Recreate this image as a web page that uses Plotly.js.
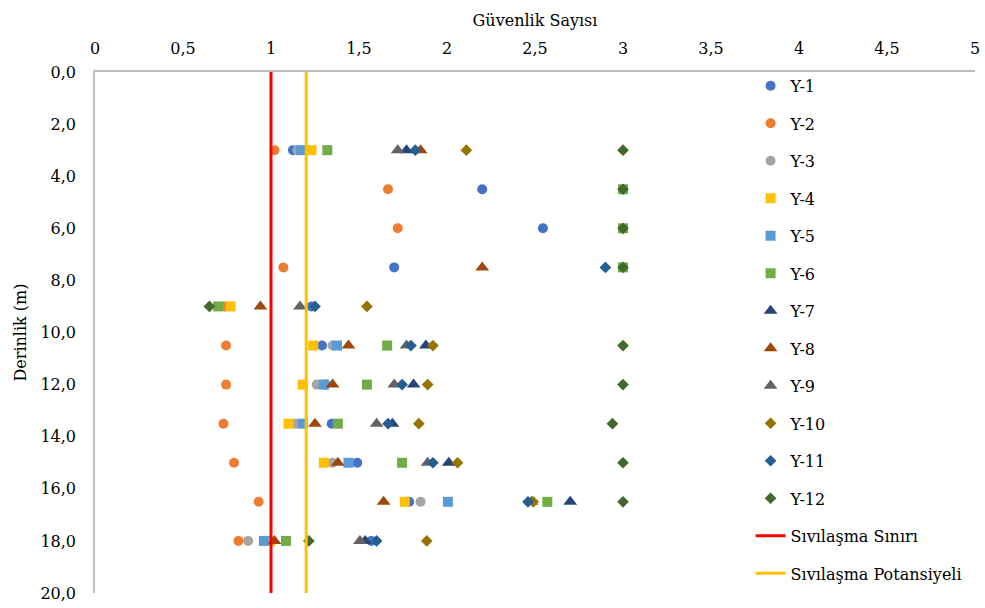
<!DOCTYPE html>
<html>
<head>
<meta charset="utf-8">
<script src="https://cdn.plot.ly/plotly-3.0.1.min.js"></script>
<style>html,body{margin:0;padding:0;background:#fff;}#chart{width:985px;height:608px;}</style>
</head>
<body>
<div id="chart"></div>
<script>
// Depths (m)
const depths = [3.0, 4.5, 6.0, 7.5, 9.0, 10.5, 12.0, 13.5, 15.0, 16.5, 18.0];

// Safety factor values per borehole (null = no point)
const Y1  = [1.125, 2.20, 2.545, 1.70, 1.23, 1.29, 1.31, 1.345, 1.49, 1.785, 1.57];
const Y2  = [1.02, 1.665, 1.72, 1.07, 0.74, 0.745, 0.745, 0.73, 0.79, 0.93, 0.815];
const Y3  = [1.15, null, null, null, null, 1.35, 1.26, 1.14, 1.35, 1.85, 0.87];
const Y4  = [1.23, null, null, null, 0.77, 1.24, 1.18, 1.10, 1.30, 1.76, 0.995];
const Y5  = [1.17, null, null, null, null, 1.375, 1.30, 1.18, 1.44, 2.005, 0.96];
const Y6  = [1.32, 3.0, 3.0, 3.0, 0.70, 1.66, 1.545, 1.38, 1.745, 2.57, 1.085];
const Y7  = [1.77, null, null, null, null, 1.88, 1.81, 1.69, 2.01, 2.70, 1.535];
const Y8  = [1.85, null, null, 2.20, 0.94, 1.44, 1.35, 1.25, 1.38, 1.64, 1.02];
const Y9  = [1.72, null, null, null, 1.165, 1.77, 1.70, 1.60, 1.89, 2.48, 1.505];
const Y10 = [2.11, null, null, null, 1.545, 1.92, 1.89, 1.84, 2.06, 2.49, 1.885];
const Y11 = [1.82, null, null, 2.90, 1.25, 1.795, 1.745, 1.665, 1.92, 2.46, 1.60];
const Y12 = [3.0, 3.0, 3.0, 3.0, 0.65, 3.0, 3.0, 2.94, 3.0, 3.0, 1.215];

const seriesNames = ["Y-1","Y-2","Y-3","Y-4","Y-5","Y-6","Y-7","Y-8","Y-9","Y-10","Y-11","Y-12"];
const seriesValues = [Y1,Y2,Y3,Y4,Y5,Y6,Y7,Y8,Y9,Y10,Y11,Y12];
const seriesColors = ["#4472C4","#ED7D31","#A5A5A5","#FFC000","#5B9BD5","#70AD47",
                      "#264478","#9E480E","#636363","#997300","#255E91","#43682B"];
const seriesSymbols = ["circle","circle","circle","square","square","square",
                       "triangle-up","triangle-up","triangle-up","diamond","diamond","diamond"];
const seriesSizes = [10,10,10,10,10,10,12,12,12,9,9,9];

// Threshold lines
const limitName = "Sıvılaşma Sınırı";
const limitValue = 1.0;
const potentialName = "Sıvılaşma Potansiyeli";
const potentialValue = 1.2;
const depthRange = [0, 20];

const yTicks = [0,2,4,6,8,10,12,14,16,18,20];

const traces = seriesNames.map((name, i) => ({
  type: "scatter",
  mode: "markers",
  name: name,
  legendgroup: name,
  x: seriesValues[i],
  y: depths,
  marker: {color: seriesColors[i], symbol: seriesSymbols[i], size: seriesSizes[i], line: {width: 0}},
  hoverinfo: "x+y+name"
}));

traces.push({
  type: "scatter", mode: "lines", name: limitName, legendgroup: limitName,
  x: [limitValue, limitValue], y: depthRange,
  line: {color: "#FF0000", width: 3}
});
traces.push({
  type: "scatter", mode: "lines", name: potentialName, legendgroup: potentialName,
  x: [potentialValue, potentialValue], y: depthRange,
  line: {color: "#FFC000", width: 3}
});

const fontFam = "DejaVu Serif";

const layout = {
  width: 985, height: 608,
  paper_bgcolor: "#fff", plot_bgcolor: "#fff",
  separators: ", ",
  margin: {l: 95, r: 10, t: 72, b: 15},
  font: {family: fontFam, size: 16, color: "#000"},
  showlegend: true,
  legend: {
    x: 0.745, xanchor: "left", y: 1.006, yanchor: "top",
    bgcolor: "rgba(0,0,0,0)",
    font: {family: fontFam, size: 16, color: "#000"},
    tracegroupgap: 13.7,
    itemwidth: 30,
    maxheight: 600
  },
  xaxis: {
    side: "top",
    range: [0, 5],
    dtick: 0.5, tick0: 0,
    showgrid: false, zeroline: false,
    showline: true, linecolor: "#BFBFBF", linewidth: 1.5,
    ticks: "",
    ticklabelstandoff: 10,
    tickfont: {family: fontFam, size: 16, color: "#000"},
    title: {text: "Güvenlik Sayısı", font: {family: fontFam, size: 16, color: "#000"}, standoff: 8}
  },
  yaxis: {
    range: [20, 0],
    tickvals: yTicks,
    tickformat: ".1f",
    showgrid: false, zeroline: false,
    showline: true, linecolor: "#BFBFBF", linewidth: 1.5,
    ticks: "",
    ticklabelstandoff: 14,
    tickfont: {family: fontFam, size: 16, color: "#000"},
    title: {text: "Derinlik (m)", font: {family: fontFam, size: 16, color: "#000"}, standoff: 10}
  }
};

Plotly.newPlot("chart", traces, layout, {displayModeBar: false, responsive: false});
</script>
</body>
</html>
